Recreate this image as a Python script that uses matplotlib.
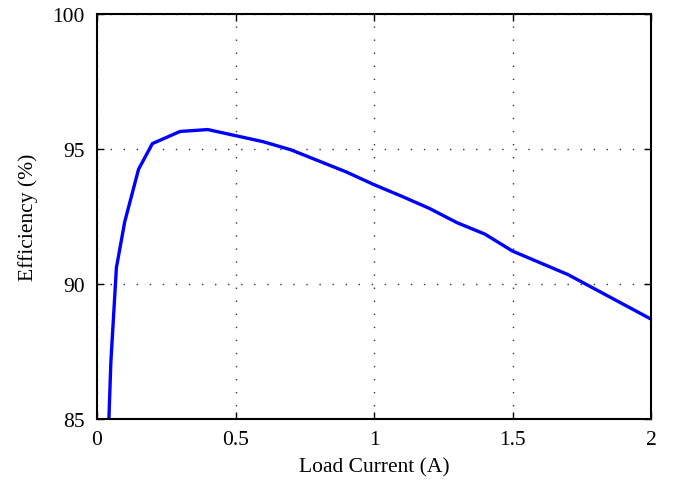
import matplotlib
matplotlib.use("Agg")
import matplotlib.pyplot as plt

# load current (A) vs converter efficiency (%)
load_current = [0.043, 0.05, 0.07, 0.1, 0.15, 0.2, 0.3, 0.4, 0.6, 0.7,
                0.9, 1.0, 1.1, 1.2, 1.3, 1.4, 1.5, 1.7, 2.0]
efficiency = [85.0, 87.1, 90.6, 92.3, 94.25, 95.2, 95.65, 95.72, 95.27, 94.97,
              94.15, 93.68, 93.25, 92.8, 92.27, 91.85, 91.22, 90.35, 88.7]

x_ticks = [0, 0.5, 1, 1.5, 2]
x_tick_labels = ["0", "0.5", "1", "1.5", "2"]
y_ticks = [85, 90, 95, 100]

plt.rcParams["font.family"] = ["Liberation Serif", "DejaVu Serif"]

fig = plt.figure(figsize=(6.74, 4.85), dpi=100)
ax = fig.add_axes([97 / 674, 65 / 485, 554 / 674, 405 / 485])

ax.plot(load_current, efficiency, color=(0, 0, 1), linewidth=2.4,
        solid_joinstyle="miter")

ax.set_xlim(0, 2)
ax.set_ylim(85, 100)
ax.set_xticks(x_ticks)
ax.set_xticklabels(x_tick_labels)
ax.set_yticks(y_ticks)

ax.grid(True, color="#333333", linestyle=(0, (1, 8.4)), linewidth=1.0)
ax.tick_params(direction="in", length=5, width=1.0, top=True, right=True,
               labelsize=15.5, colors="black")
ax.tick_params(axis="x", pad=8)
ax.tick_params(axis="y", pad=9)
for s in ax.spines.values():
    s.set_linewidth(1.5)

ax.set_xlabel("Load Current (A)", fontsize=15.5, labelpad=6)
ax.set_ylabel("Efficiency (%)", fontsize=15.5, labelpad=10)

fig.savefig("out.png", dpi=100)
